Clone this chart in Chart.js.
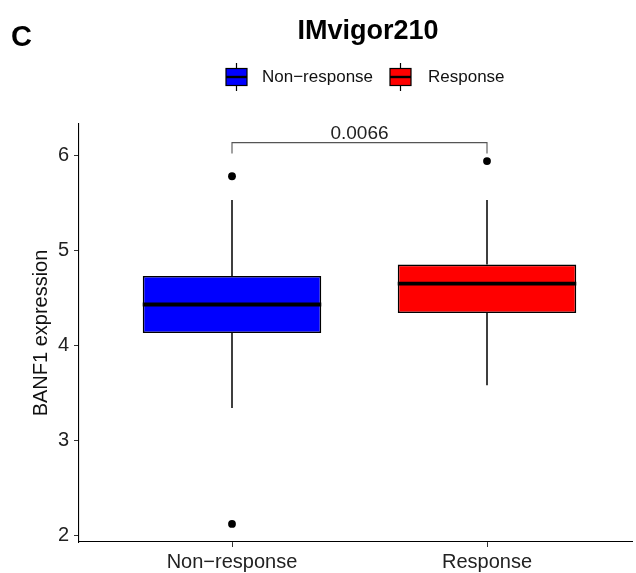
<!DOCTYPE html>
<html><head><meta charset="utf-8">
<script src="https://cdn.jsdelivr.net/npm/chart.js@4.4.1/dist/chart.umd.min.js"></script>
<style>html,body{margin:0;padding:0;background:#fff;}canvas{display:block;}</style>
</head><body>
<canvas id="c" width="636" height="573" style="width:636px;height:573px"></canvas>
<script>
// ---- data ----
const categories = ['Non−response', 'Response'];
const boxColors = ['#0000FF', '#FF0000'];
const q1 = [4.13, 4.34];
const medians = [4.43, 4.65];
const q3 = [4.73, 4.85];
const whiskerLow = [3.34, 3.58];
const whiskerHigh = [5.53, 5.53];
const outliers = [[5.78, 2.12], [5.94]];
const yTicks = [2, 3, 4, 5, 6];
const pValue = '0.0066';
const bracketLevel = 6.134;
const bracketDrop = 6.02;
const chartTitle = 'IMvigor210';
const panelTag = 'C';
const yTitle = 'BANF1 expression';

const FONT = '"Liberation Sans", Arial, Helvetica, sans-serif';
Chart.defaults.font.family = FONT;

const boxDatasets = categories.map((c, i) => ({
  type: 'bar',
  label: c,
  data: [{ x: i, y: [q1[i], q3[i]] }],
  backgroundColor: boxColors[i],
  borderColor: '#000',
  borderWidth: 1.6,
  borderSkipped: false,
  grouped: false,
  categoryPercentage: 1,
  barPercentage: 0.7
}));

const outlierPoints = [];
outliers.forEach((arr, i) => arr.forEach(v => outlierPoints.push({ x: i, y: v })));

const extras = {
  id: 'boxExtras',
  beforeDatasetsDraw(chart) {
    const { ctx, scales: { x, y } } = chart;
    ctx.save();
    ctx.strokeStyle = '#000';
    ctx.lineWidth = 1.5;
    categories.forEach((c, i) => {
      const px = x.getPixelForValue(i);
      ctx.beginPath();
      ctx.moveTo(px, y.getPixelForValue(whiskerHigh[i]));
      ctx.lineTo(px, y.getPixelForValue(q3[i]));
      ctx.moveTo(px, y.getPixelForValue(q1[i]));
      ctx.lineTo(px, y.getPixelForValue(whiskerLow[i]));
      ctx.stroke();
    });
    ctx.restore();
  },
  afterDatasetsDraw(chart) {
    const { ctx, scales: { x, y } } = chart;
    ctx.save();
    // medians
    ctx.strokeStyle = '#000';
    ctx.lineWidth = 3.8;
    categories.forEach((c, i) => {
      const el = chart.getDatasetMeta(i).data[0];
      const my = y.getPixelForValue(medians[i]);
      ctx.beginPath();
      ctx.moveTo(el.x - el.width / 2, my);
      ctx.lineTo(el.x + el.width / 2, my);
      ctx.stroke();
    });
    // bracket
    const x0 = x.getPixelForValue(0), x1 = x.getPixelForValue(1);
    const by = y.getPixelForValue(bracketLevel), bd = y.getPixelForValue(bracketDrop);
    ctx.strokeStyle = '#555';
    ctx.lineWidth = 1.1;
    ctx.beginPath();
    ctx.moveTo(x0, bd); ctx.lineTo(x0, by); ctx.lineTo(x1, by); ctx.lineTo(x1, bd);
    ctx.stroke();
    ctx.fillStyle = '#222';
    ctx.font = '19px ' + FONT;
    ctx.textAlign = 'center';
    ctx.textBaseline = 'alphabetic';
    ctx.fillText(pValue, (x0 + x1) / 2, by - 4);
    ctx.restore();
  },
  afterDraw(chart) {
    const { ctx } = chart;
    ctx.save();
    ctx.fillStyle = '#000';
    ctx.textBaseline = 'alphabetic';
    ctx.font = 'bold 29px ' + FONT;
    ctx.textAlign = 'left';
    ctx.fillText(panelTag, 11, 46);
    ctx.font = 'bold 27px ' + FONT;
    ctx.textAlign = 'center';
    ctx.fillText(chartTitle, 368, 39);
    // legend
    const keyX = [226, 390];
    const textX = [262, 428];
    const cy = 77;
    categories.forEach((c, i) => {
      const kx = keyX[i], kw = 21, kh = 17;
      ctx.strokeStyle = '#000';
      ctx.lineWidth = 1.2;
      ctx.beginPath();
      ctx.moveTo(kx + kw / 2, cy - 14); ctx.lineTo(kx + kw / 2, cy - kh / 2);
      ctx.moveTo(kx + kw / 2, cy + kh / 2); ctx.lineTo(kx + kw / 2, cy + 14);
      ctx.stroke();
      ctx.fillStyle = boxColors[i];
      ctx.fillRect(kx, cy - kh / 2, kw, kh);
      ctx.strokeRect(kx, cy - kh / 2, kw, kh);
      ctx.lineWidth = 2.4;
      ctx.beginPath();
      ctx.moveTo(kx, cy); ctx.lineTo(kx + kw, cy);
      ctx.stroke();
      ctx.fillStyle = '#111';
      ctx.font = '17px ' + FONT;
      ctx.textAlign = 'left';
      ctx.textBaseline = 'middle';
      ctx.fillText(c, textX[i], cy);
    });
    ctx.restore();
  }
};

new Chart(document.getElementById('c'), {
  type: 'bar',
  data: {
    datasets: [
      ...boxDatasets,
      {
        type: 'scatter',
        label: 'outliers',
        data: outlierPoints,
        pointRadius: 3.9,
        pointHoverRadius: 3.9,
        backgroundColor: '#000',
        borderWidth: 0
      }
    ]
  },
  options: {
    responsive: false,
    animation: false,
    layout: { padding: { top: 124, left: 0, right: 0, bottom: 0 } },
    plugins: { legend: { display: false }, tooltip: { enabled: false }, title: { display: false } },
    scales: {
      x: {
        type: 'linear',
        min: -0.6,
        max: 1.569,
        offset: false,
        afterBuildTicks: s => { s.ticks = categories.map((c, i) => ({ value: i })); },
        afterFit: s => { s.height = 31; },
        ticks: {
          callback: v => categories[v],
          font: { size: 20 },
          color: '#222',
          padding: 3,
          maxRotation: 0,
          autoSkip: false
        },
        grid: { offset: false, drawOnChartArea: false, drawTicks: true, tickLength: 5, color: '#333', lineWidth: 1 },
        border: { display: true, color: '#000', width: 1.1 }
      },
      y: {
        type: 'linear',
        min: 1.93,
        max: 6.33,
        afterBuildTicks: s => { s.ticks = yTicks.map(v => ({ value: v })); },
        afterFit: s => { s.width = 79; },
        ticks: { callback: v => String(v), font: { size: 20 }, color: '#222', padding: 5 },
        grid: { drawOnChartArea: false, drawTicks: true, tickLength: 5, color: '#333', lineWidth: 1 },
        border: { display: true, color: '#000', width: 1.1 },
        title: { display: true, text: yTitle, font: { size: 20 }, color: '#111', padding: { top: 29, bottom: 0 } }
      }
    }
  },
  plugins: [extras]
});
</script>
</body></html>
